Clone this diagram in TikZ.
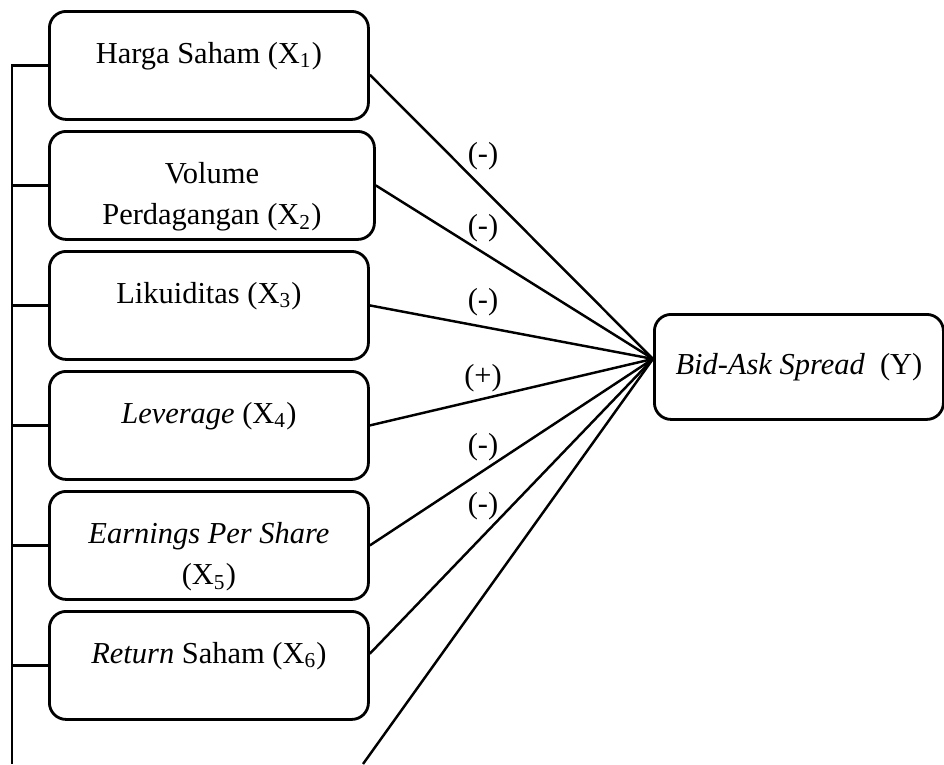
\documentclass[tikz,border=0pt]{standalone}
\usepackage{fontspec}
\setmainfont{Liberation Serif}
\usetikzlibrary{calc}

\newcommand{\boxtext}[1]{\parbox[c][1.62cm][t]{4.4cm}{\centering\vspace*{9.5pt}\strut#1}}

\tikzset{
  varbox/.style={draw, line width=1.2pt, rounded corners=0.25cm, anchor=north west,
    minimum width=4.785cm, minimum height=1.62cm, inner sep=0pt},
  link/.style={line width=1.05pt},
  sign/.style={inner sep=0pt}
}

\begin{document}
\begin{tikzpicture}[x=0.015cm, y=-0.015cm, font=\fontsize{13}{17.9}\selectfont]
\useasboundingbox (0,0) rectangle (944,764);
% independent variables
\node[varbox] (x1) at (48,10) {\boxtext{Harga Saham (X\textsubscript{1})}};
\node[varbox, minimum width=4.875cm] (x2) at (48,130) {\boxtext{Volume\\ Perdagangan (X\textsubscript{2})}};
\node[varbox] (x3) at (48,250) {\boxtext{Likuiditas (X\textsubscript{3})}};
\node[varbox] (x4) at (48,370) {\boxtext{\textit{Leverage} (X\textsubscript{4})}};
\node[varbox] (x5) at (48,490) {\boxtext{\textit{Earnings Per Share}\\ (X\textsubscript{5})}};
\node[varbox] (x6) at (48,610) {\boxtext{\textit{Return} Saham (X\textsubscript{6})}};
% dependent variable
\node[varbox, minimum width=4.335cm, minimum height=1.575cm] (bas) at (653,313) {\textit{Bid-Ask Spread}\ \ (Y)};
\coordinate (hub) at ($(bas.west)+(0,-8)$);
\coordinate (railend) at (12,764);
\coordinate (tail) at (363,764);

% left rail
\draw[link] (x1.west) -| (railend);
\draw[link] (x2.west) -- (x2.west -| railend);
\draw[link] (x3.west) -- (x3.west -| railend);
\draw[link] (x4.west) -- (x4.west -| railend);
\draw[link] (x5.west) -- (x5.west -| railend);
\draw[link] (x6.west) -- (x6.west -| railend);

% paths to Y
\draw[link] ([yshift=-4]x1.east) -- (hub);
\draw[link] (x2.east) -- (hub);
\draw[link] (x3.east) -- (hub);
\draw[link] (x4.east) -- (hub);
\draw[link] (x5.east) -- (hub);
\draw[link] ([yshift=5]x6.east) -- (hub);
\draw[link] (hub) -- (tail);

% signs
\node[sign] (s1) at (483,156) {(-)};
\node[sign] (s2) at (483,228) {(-)};
\node[sign] (s3) at (483,302) {(-)};
\node[sign] (s4) at (483,378) {(+)};
\node[sign] (s5) at (483,447) {(-)};
\node[sign] (s6) at (483,506) {(-)};
\end{tikzpicture}
\end{document}
